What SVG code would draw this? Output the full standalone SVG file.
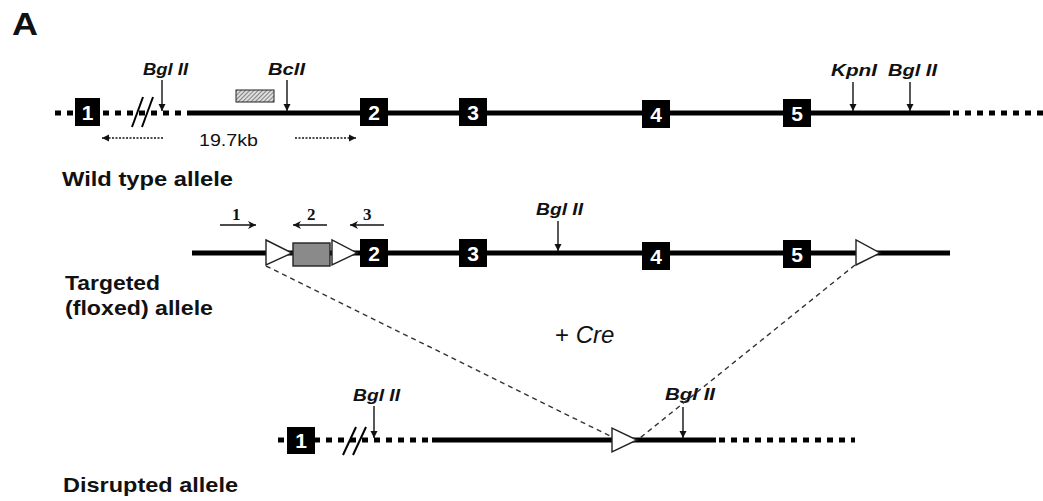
<svg xmlns="http://www.w3.org/2000/svg" width="1043" height="501" viewBox="0 0 1043 501">
<style>
.solid{stroke:#000;stroke-width:5;fill:none}
.dot{stroke:#000;stroke-width:5;fill:none;stroke-dasharray:6 6}
.exon{fill:#000}
.exn{font-family:"Liberation Sans",Arial,sans-serif;font-weight:bold;font-size:21px;fill:#fff;text-anchor:middle}
.site{font-family:"Liberation Sans",Arial,sans-serif;font-weight:bold;font-style:italic;font-size:16px;fill:#111}
.lbl{font-family:"Liberation Sans",Arial,sans-serif;font-weight:bold;font-size:21px;fill:#111}
.ptr{stroke:#111;stroke-width:1.4;fill:none}
.lox{fill:#fff;stroke:#222;stroke-width:1.4}
.dash{stroke:#333;stroke-width:1.4;fill:none;stroke-dasharray:5 4}
.prm{font-family:"Liberation Serif","Times New Roman",serif;font-weight:bold;font-size:17px;fill:#111}
.slash{stroke:#000;stroke-width:2;fill:none}
</style>
<defs>
<marker id="ah" viewBox="0 0 10 10" refX="10" refY="5" markerWidth="7" markerHeight="8" markerUnits="userSpaceOnUse" orient="auto">
<path d="M0,0 L10,5 L0,10 z" fill="#111"/>
</marker>
<marker id="vh" viewBox="0 0 10 10" refX="10" refY="5" markerWidth="8" markerHeight="9" markerUnits="userSpaceOnUse" orient="auto">
<path d="M0,0 L10,5 L0,10 L3,5 z" fill="#111"/>
</marker>
<pattern id="hatch" width="3" height="3" patternUnits="userSpaceOnUse" patternTransform="rotate(45)">
<rect width="3" height="3" fill="#ddd"/>
<line x1="0" y1="0" x2="0" y2="3" stroke="#444" stroke-width="1.2"/>
</pattern>
</defs>
<rect width="1043" height="501" fill="#fff"/>

<text x="12" y="35" font-family="Liberation Sans, Arial, sans-serif" font-weight="bold" font-size="31" textLength="26" lengthAdjust="spacingAndGlyphs" fill="#111">A</text>

<!-- Wild type allele -->
<g id="wild-type">
<line class="dot" x1="55" y1="113" x2="185" y2="113"/>
<line class="solid" x1="187" y1="113" x2="950" y2="113"/>
<line class="dot" x1="953" y1="113" x2="1043" y2="113"/>
<line class="slash" x1="132" y1="127" x2="143" y2="97"/>
<line class="slash" x1="142" y1="127" x2="153" y2="97"/>
<rect x="236" y="90" width="38" height="12" fill="url(#hatch)" stroke="#222" stroke-width="1"/>
<g id="wt-exon1"><rect class="exon" x="75" y="98" width="25" height="28"/><text class="exn" x="87.5" y="120">1</text></g>
<g id="wt-exon2"><rect class="exon" x="360" y="98" width="28" height="28"/><text class="exn" x="374" y="120">2</text></g>
<g id="wt-exon3"><rect class="exon" x="459" y="98" width="28" height="28"/><text class="exn" x="473" y="120">3</text></g>
<g id="wt-exon4"><rect class="exon" x="642" y="100" width="28" height="28"/><text class="exn" x="656" y="122">4</text></g>
<g id="wt-exon5"><rect class="exon" x="783" y="99" width="28" height="28"/><text class="exn" x="797" y="121">5</text></g>
<text class="site" x="143" y="75" textLength="45" lengthAdjust="spacingAndGlyphs">Bgl II</text>
<text class="site" x="268" y="75" textLength="37" lengthAdjust="spacingAndGlyphs">BclI</text>
<text class="site" x="831" y="76" textLength="46" lengthAdjust="spacingAndGlyphs">KpnI</text>
<text class="site" x="888" y="76" textLength="49" lengthAdjust="spacingAndGlyphs">Bgl II</text>
<text x="199" y="146" font-family="Liberation Sans, Arial, sans-serif" font-size="17" textLength="59" lengthAdjust="spacingAndGlyphs" fill="#111">19.7kb</text>
<text class="lbl" x="62" y="186" textLength="171" lengthAdjust="spacingAndGlyphs">Wild type allele</text>
</g>

<!-- Targeted allele -->
<g id="targeted">
<line class="solid" x1="192" y1="253" x2="950" y2="253"/>
<g id="tg-lox1"><polygon class="lox" points="266,240 266,265 292,253"/></g>
<g id="tg-neo"><rect x="293" y="243" width="37" height="23" fill="#8a8a8a" stroke="#222" stroke-width="1.4"/></g>
<g id="tg-lox2"><polygon class="lox" points="332,240 332,265 357,253"/></g>
<g id="tg-exon2"><rect class="exon" x="360" y="239" width="28" height="28"/><text class="exn" x="374" y="261">2</text></g>
<g id="tg-exon3"><rect class="exon" x="459" y="239" width="28" height="28"/><text class="exn" x="473" y="261">3</text></g>
<g id="tg-exon4"><rect class="exon" x="642" y="242" width="28" height="28"/><text class="exn" x="656" y="264">4</text></g>
<g id="tg-exon5"><rect class="exon" x="783" y="240" width="28" height="28"/><text class="exn" x="797" y="262">5</text></g>
<g id="tg-lox3"><polygon class="lox" points="856,240 856,265 880,253"/></g>
<text class="site" x="536" y="215" textLength="47" lengthAdjust="spacingAndGlyphs">Bgl II</text>
<text class="prm" x="232" y="220">1</text>
<text class="prm" x="307" y="220">2</text>
<text class="prm" x="363" y="220">3</text>
<text class="lbl" x="65" y="290" textLength="95" lengthAdjust="spacingAndGlyphs">Targeted</text>
<text class="lbl" x="65" y="315" textLength="148" lengthAdjust="spacingAndGlyphs">(floxed) allele</text>
</g>

<text x="555" y="343" font-family="Liberation Sans, Arial, sans-serif" font-size="24" fill="#111">+ <tspan font-style="italic">Cre</tspan></text>

<!-- Disrupted allele -->
<g id="disrupted">
<line class="dot" x1="278" y1="440" x2="428" y2="440"/>
<line class="solid" x1="432" y1="440" x2="716" y2="440"/>
<line class="dot" x1="719" y1="440" x2="855" y2="440"/>
<line class="slash" x1="343" y1="455" x2="356" y2="427"/>
<line class="slash" x1="353" y1="455" x2="366" y2="427"/>
<g id="dr-exon1"><rect class="exon" x="287" y="427" width="28" height="27"/><text class="exn" x="301" y="448">1</text></g>
<g id="dr-lox"><polygon class="lox" points="612,428 612,452 637,440"/></g>
<text class="site" x="353" y="401" textLength="47" lengthAdjust="spacingAndGlyphs">Bgl II</text>
<text class="site" x="665" y="400" textLength="50" lengthAdjust="spacingAndGlyphs">Bgl II</text>
<text class="lbl" x="63" y="492" textLength="175" lengthAdjust="spacingAndGlyphs">Disrupted allele</text>
</g>

<!-- Connectors -->
<g id="connectors">
<line class="ptr" x1="162" y1="80" x2="162" y2="111" marker-end="url(#ah)"/>
<line class="ptr" x1="287" y1="80" x2="287" y2="111" marker-end="url(#ah)"/>
<line class="ptr" x1="853" y1="82" x2="853" y2="111" marker-end="url(#ah)"/>
<line class="ptr" x1="910" y1="82" x2="910" y2="111" marker-end="url(#ah)"/>
<line class="ptr" x1="163" y1="138" x2="102" y2="138" stroke-dasharray="2 1.5" marker-end="url(#ah)"/>
<line class="ptr" x1="295" y1="138" x2="356" y2="138" stroke-dasharray="2 1.5" marker-end="url(#ah)"/>
<line class="ptr" x1="558" y1="221" x2="558" y2="251" marker-end="url(#ah)"/>
<line class="ptr" x1="220" y1="225" x2="256" y2="225" marker-end="url(#vh)"/>
<line class="ptr" x1="327" y1="225" x2="293" y2="225" marker-end="url(#vh)"/>
<line class="ptr" x1="384" y1="225" x2="350" y2="225" marker-end="url(#vh)"/>
<line class="ptr" x1="374" y1="406" x2="374" y2="438" marker-end="url(#ah)"/>
<line class="ptr" x1="683" y1="407" x2="683" y2="438" marker-end="url(#ah)"/>
<line class="dash" x1="266" y1="266" x2="612" y2="437"/>
<line class="dash" x1="855" y1="265" x2="640" y2="438"/>
</g>
</svg>
